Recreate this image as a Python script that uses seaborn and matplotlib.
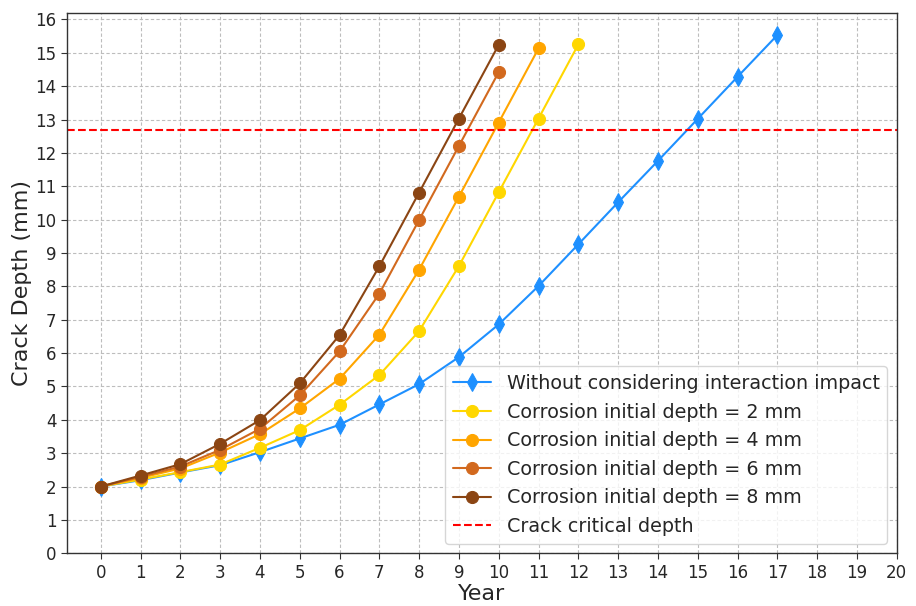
import matplotlib
matplotlib.use("Agg")
import matplotlib.pyplot as plt
import seaborn as sns
import pandas as pd

years_base = list(range(0, 18))
depth_base = [2.0, 2.19, 2.42, 2.64, 3.03, 3.44, 3.85, 4.46, 5.07, 5.88, 6.86, 8.01, 9.26, 10.52, 11.76, 13.02, 14.28, 15.53]

years_2 = list(range(0, 13))
depth_2 = [2.0, 2.21, 2.43, 2.66, 3.16, 3.69, 4.45, 5.34, 6.66, 8.61, 10.82, 13.03, 15.25]

years_4 = list(range(0, 12))
depth_4 = [2.0, 2.26, 2.54, 3.02, 3.57, 4.34, 5.23, 6.55, 8.5, 10.69, 12.91, 15.13]

years_6 = list(range(0, 11))
depth_6 = [2.0, 2.29, 2.6, 3.1, 3.73, 4.73, 6.05, 7.78, 9.99, 12.21, 14.42]

years_8 = list(range(0, 11))
depth_8 = [2.0, 2.33, 2.67, 3.28, 3.99, 5.09, 6.54, 8.6, 10.81, 13.03, 15.24]

critical_depth = 12.7

labels = ["Without considering interaction impact",
          "Corrosion initial depth = 2 mm",
          "Corrosion initial depth = 4 mm",
          "Corrosion initial depth = 6 mm",
          "Corrosion initial depth = 8 mm"]
colors = ["#1E90FF", "#FFD700", "#FFA500", "#D2691E", "#8B4513"]
markers = ["d", "o", "o", "o", "o"]
series = [(years_base, depth_base), (years_2, depth_2), (years_4, depth_4),
          (years_6, depth_6), (years_8, depth_8)]

sns.set_style("white")
plt.rcParams['font.family'] = ['DejaVu Sans']

fig, ax = plt.subplots(figsize=(9.16, 6.06), dpi=100)
for (x, y), lab, c, m in zip(series, labels, colors, markers):
    df = pd.DataFrame({"Year": x, "Depth": y})
    sns.lineplot(data=df, x="Year", y="Depth", ax=ax, color=c, marker=m,
                 markersize=8.7, markeredgecolor=c, linewidth=1.5, label=lab)
ax.axhline(critical_depth, color="red", linestyle="--", linewidth=1.5,
           label="Crack critical depth")

ax.set_xlim(-0.85, 20)
ax.set_ylim(0, 16.2)
ax.set_xticks(range(0, 21))
ax.set_yticks(range(0, 17))
ax.tick_params(axis="both", labelsize=12, direction="out", length=4,
               bottom=True, left=True, color="#333333")
ax.grid(True, linestyle=(0, (3, 2)), color="#bdbdbd", linewidth=0.8)
for s in ax.spines.values():
    s.set_color("#333333")
    s.set_linewidth(1.0)
ax.set_xlabel("Year", fontsize=16, labelpad=2)
ax.set_ylabel("Crack Depth (mm)", fontsize=16, labelpad=2)
ax.legend(loc="lower right", fontsize=13.8, frameon=True, framealpha=0.8,
          edgecolor="#cccccc", handlelength=2, labelspacing=0.5)
fig.subplots_adjust(left=0.073, right=0.979, top=0.979, bottom=0.087)
fig.savefig("out.png", dpi=100)
